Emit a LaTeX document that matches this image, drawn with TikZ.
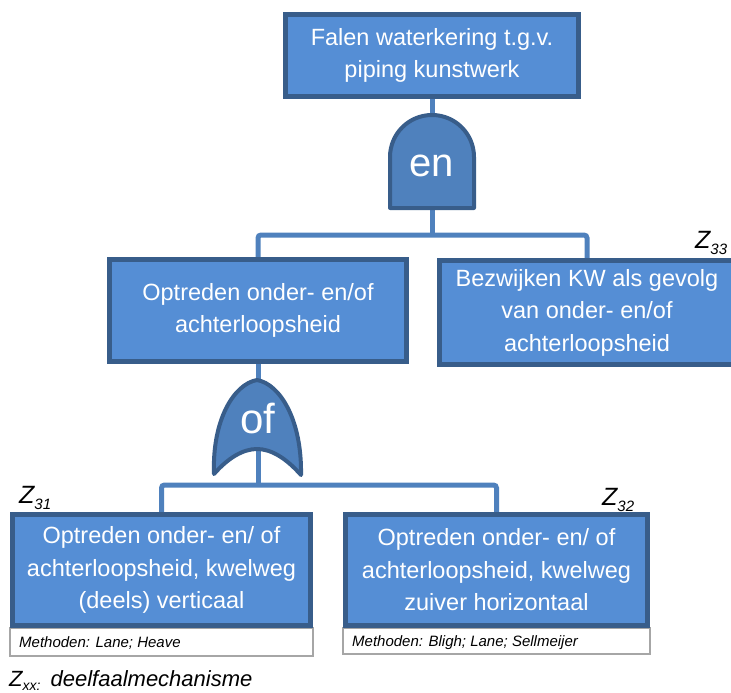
\documentclass[tikz,border=0pt]{standalone}
\usepackage{fontspec}
\setmainfont{Liberation Sans}
\definecolor{boxfill}{HTML}{558ED5}
\definecolor{boxline}{HTML}{385D8A}
\definecolor{gatefill}{HTML}{4F81BD}
\definecolor{connc}{HTML}{4F81BD}
\definecolor{methline}{HTML}{A6A6A6}
\pgfdeclarelayer{bg}
\pgfsetlayers{bg,main}
\tikzset{
  evbox/.style={draw=boxline, fill=boxfill, line width=5pt, text=white, align=center,
    inner sep=0pt, font=\fontsize{23.5}{32.5}\selectfont},
  gateshape/.style={draw=boxline, fill=gatefill, line width=4pt, line join=round},
  gatetext/.style={text=white, inner sep=0pt},
  conn/.style={draw=connc, line width=5pt, rounded corners=3pt},
  methbox/.style={draw=methline, fill=white, line width=1.2pt, inner sep=0pt},
  methtext/.style={font=\fontsize{15}{15}\selectfont\itshape, inner sep=0pt, anchor=base west},
  zlabel/.style={inner sep=0pt, anchor=base west}
}
\newcommand{\zlab}[1]{{\fontsize{25}{25}\selectfont\itshape Z\raisebox{-6pt}{\fontsize{15}{15}\selectfont #1}}}
\begin{document}
\begin{tikzpicture}[x=1pt,y=-1pt]
\useasboundingbox (0,0) rectangle (731,693);
% coordinates for bars
\coordinate (bar1) at (432,235);
\coordinate (bar2) at (258,485);
% methods boxes
\node[methbox, minimum width=303, minimum height=28] (m1) at (161.5,642) {};
\node[methbox, minimum width=307, minimum height=26] (m2) at (496.5,641) {};
\node[methtext] (m1t) at (19,647) {Methoden: Lane; Heave};
\node[methtext] (m2t) at (352,646) {Methoden: Bligh; Lane; Sellmeijer};
% boxes
\node[evbox, minimum width=293, minimum height=82] (top) at (432,55.5) {Falen waterkering t.g.v.\\piping kunstwerk};
\node[evbox, minimum width=297, minimum height=102] (mid) at (258,310.5) {Optreden onder- en/of\\achterloopsheid};
\node[evbox, minimum width=295, minimum height=104] (right) at (587,312.5) {Bezwijken KW als gevolg\\van onder- en/of\\achterloopsheid};
\node[evbox, minimum width=298, minimum height=111] (bl) at (161.5,570) {Optreden onder- en/ of\\achterloopsheid, kwelweg\\(deels) verticaal};
\node[evbox, minimum width=302, minimum height=111] (br) at (496.5,570) {Optreden onder- en/ of\\achterloopsheid, kwelweg\\zuiver horizontaal};
% connectors behind boxes
\begin{pgfonlayer}{bg}
\draw[conn] (top.south) -- (bar1);
\draw[conn] (mid.north) |- (bar1) -| (right.north);
\draw[conn] (mid.south) -- (bar2);
\draw[conn] (bl.north) |- (bar2) -| (br.north);
\end{pgfonlayer}
% AND gate
\path[gateshape] (390,208) -- (390,157) .. controls (390,133.8) and (408.8,115) .. (432,115)
  .. controls (455.2,115) and (474,133.8) .. (474,157) -- (474,208) -- cycle;
\node[gatetext, anchor=base, font=\fontsize{40}{40}\selectfont] (engate) at (432,176) {en};
% OR gate
\path[gateshape] (214,474) .. controls (212,420) and (234,384) .. (257,380)
  .. controls (280,384) and (302,420) .. (301,475)
  .. controls (286,458) and (271,449) .. (257,449)
  .. controls (243,449) and (228,458) .. (214,474) -- cycle;
\node[gatetext, anchor=base, font=\fontsize{42}{42}\selectfont] (ofgate) at (258,433) {of};
% labels
\node[zlabel] (z31) at (19,503) {\zlab{31}};
\node[zlabel] (z32) at (602,505) {\zlab{32}};
\node[zlabel] (z33) at (695,248) {\zlab{33}};
\node[zlabel] (zxx) at (9,686) {{\fontsize{22}{22}\selectfont\itshape Z\raisebox{-4pt}{\fontsize{14}{14}\selectfont xx:}\hspace{4pt} deelfaalmechanisme}};
\end{tikzpicture}
\end{document}
